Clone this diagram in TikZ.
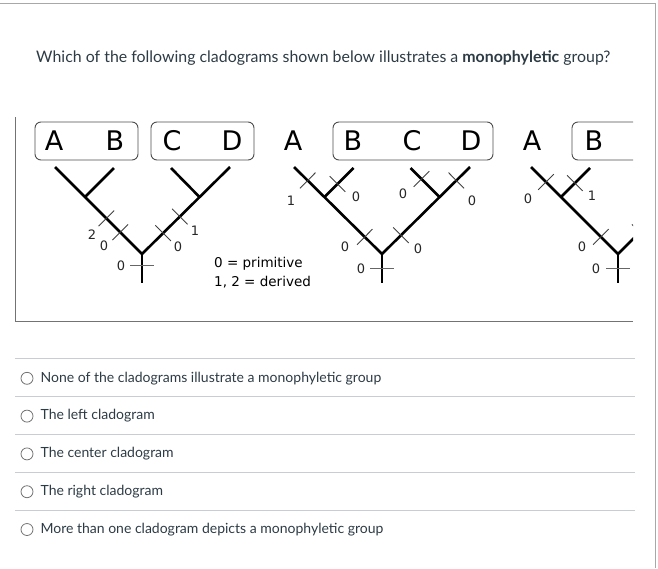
\documentclass[tikz,border=0pt]{standalone}
\usepackage{fontspec}
\setmainfont{Lato}
\newfontfamily\treefont{DejaVu Sans}
\usetikzlibrary{calc, positioning}
\definecolor{quiztext}{HTML}{2D3B45}
\definecolor{rulegray}{HTML}{C7CDD1}
\definecolor{framegray}{HTML}{A8A8A8}

% one character change: short stroke across a branch
\newcommand{\charmark}[3]{%
  \draw[tickmark] ($(#1)!#3!(#2)!11pt!90:(#2)$) -- ($(#1)!#3!(#2)!11pt!-90:(#2)$);}

\begin{document}
\begin{tikzpicture}[x=1pt, y=-1pt,
        branch/.style={line width=2.6pt},
        tickmark/.style={line width=0.9pt, black!75},
        roottick/.style={line width=0.9pt, black!60},
        taxon/.style={font=\treefont\fontsize{27}{30}\selectfont, inner sep=0pt},
        cladebox/.style={draw=black!70, line width=0.9pt, rounded corners=6pt, inner sep=0pt, minimum height=38pt},
        charstate/.style={font=\treefont\fontsize{13}{15}\selectfont, inner sep=0pt, text=black!85},
        legend/.style={font=\treefont\fontsize{13.5}{19}\selectfont, align=left, inner sep=0pt},
        question/.style={font=\fontsize{15.9}{19}\selectfont, text=quiztext, inner sep=0pt},
        answer/.style={font=\fontsize{14}{17}\selectfont, text=quiztext, inner sep=0pt},
        radio/.style={circle, draw=black!55, line width=0.8pt, minimum size=12pt, inner sep=0pt},
        separator/.style={rulegray, line width=0.8pt},
        imgborder/.style={black!55, line width=1pt}]

        \useasboundingbox (0,0) rectangle (658,568);
        \draw[framegray, line width=1pt] (0,3) -- (655,3) -- (655,568);

        % Pregunta
        \node[question, anchor=base west] (question) at (36,62)
            {Which of the following cladograms shown below illustrates a \textbf{monophyletic} group?};

        % Imagen de los cladogramas
        \draw[imgborder] (15,117) -- (15,321) -- (633,321);
        \begin{scope}
        \clip (15,110) rectangle (633,321);

        % Cladograma izquierdo
        \node[cladebox, minimum width=103pt] (box1AB) at (86.5,141) {};
        \node[cladebox, minimum width=103pt] (box1CD) at (202.5,141) {};
        \node[taxon] (taxA1) at (54,141) {A};
        \node[taxon] (taxB1) at (115,141) {B};
        \node[taxon] (taxC1) at (172,141) {C};
        \node[taxon] (taxD1) at (232,141) {D};
        \coordinate (R1) at (142,254);
        \coordinate (S1) at (142,283);
        \coordinate (tA1) at (55,167);
        \coordinate (tD1) at (230,167);
        \coordinate (n1L) at (85,197);
        \coordinate (n1R) at (199.5,197);
        \coordinate (tB1) at (114,168);
        \coordinate (tC1) at (171,168);
        \draw[branch] (tA1) -- (R1) -- (tD1);
        \draw[branch] (R1) -- (S1);
        \draw[branch] (n1L) -- (tB1);
        \draw[branch] (n1R) -- (tC1);
        \charmark{R1}{tA1}{0.25}
        \charmark{R1}{tA1}{0.41}
        \charmark{R1}{tD1}{0.24}
        \charmark{R1}{tD1}{0.43}
        \coordinate (k1) at (142,265);
        \draw[roottick] ([xshift=-12pt]k1) -- ([xshift=12pt]k1);
        \node[charstate] (s1a) at (92,235) {2};
        \node[charstate] (s1b) at (104,246) {0};
        \node[charstate] (s1c) at (195,231) {1};
        \node[charstate] (s1d) at (178,247) {0};
        \node[charstate] (s1r) at (121,266) {0};

        \node[legend, anchor=base west] (key) at (214,286) {0 = primitive\\1, 2 = derived};

        % Cladograma central
        \node[cladebox, minimum width=160pt] (box2BCD) at (413,141) {};
        \node[taxon] (taxA2) at (293,141) {A};
        \node[taxon] (taxB2) at (353,141) {B};
        \node[taxon] (taxC2) at (412,141) {C};
        \node[taxon] (taxD2) at (471,141) {D};
        \coordinate (R2) at (382,254);
        \coordinate (S2) at (382,283);
        \coordinate (tA2) at (294,167);
        \coordinate (tD2) at (470,167);
        \coordinate (n2L) at (324.5,197);
        \coordinate (n2R) at (439.5,197);
        \coordinate (tB2) at (353.5,168);
        \coordinate (tC2) at (410.5,168);
        \draw[branch] (tA2) -- (R2) -- (tD2);
        \draw[branch] (R2) -- (S2);
        \draw[branch] (n2L) -- (tB2);
        \draw[branch] (n2R) -- (tC2);
        \charmark{n2L}{tA2}{0.55}
        \charmark{n2L}{tB2}{0.45}
        \charmark{R2}{n2L}{0.30}
        \charmark{R2}{n2R}{0.33}
        \charmark{n2R}{tC2}{0.62}
        \charmark{n2R}{tD2}{0.55}
        \coordinate (k2) at (382,268);
        \draw[roottick] ([xshift=-12pt]k2) -- ([xshift=12pt]k2);
        \node[charstate] (s2a) at (291,201) {1};
        \node[charstate] (s2b) at (356,197) {0};
        \node[charstate] (s2c) at (345,247) {0};
        \node[charstate] (s2d) at (418,249) {0};
        \node[charstate] (s2e) at (403,194) {0};
        \node[charstate] (s2f) at (472,201) {0};
        \node[charstate] (s2r) at (361,269) {0};

        % Cladograma derecho
        \node[cladebox, minimum width=168pt] (box3B) at (656,141) {};
        \node[taxon] (taxA3) at (532,141) {A};
        \node[taxon] (taxB3) at (594,141) {B};
        \coordinate (R3) at (618,254);
        \coordinate (S3) at (618,283);
        \coordinate (tA3) at (531,167);
        \coordinate (far3) at (705,167);
        \coordinate (n3L) at (561,197);
        \coordinate (tB3) at (590,168);
        \draw[branch] (tA3) -- (R3) -- (far3);
        \draw[branch] (R3) -- (S3);
        \draw[branch] (n3L) -- (tB3);
        \charmark{n3L}{tA3}{0.5}
        \charmark{n3L}{tB3}{0.48}
        \charmark{R3}{n3L}{0.30}
        \charmark{R3}{far3}{0.25}
        \coordinate (k3) at (618,268);
        \draw[roottick] ([xshift=-12pt]k3) -- ([xshift=12pt]k3);
        \node[charstate] (s3a) at (528,199) {0};
        \node[charstate] (s3b) at (592,196) {1};
        \node[charstate] (s3c) at (582,247) {0};
        \node[charstate] (s3r) at (596,269) {0};
        \end{scope}

        % Respuestas
        \foreach \txt [count=\i] in {None of the cladograms illustrate a monophyletic group,
                                     The left cladogram,
                                     The center cladogram,
                                     The right cladogram,
                                     More than one cladogram depicts a monophyletic group} {
            \coordinate (sepL\i) at (15,320+38*\i);
            \coordinate (sepR\i) at (635,320+38*\i);
            \draw[separator] (sepL\i) -- (sepR\i);
            \node[radio] (radio\i) at (27,340.5+37.8*\i) {};
            \node[answer, right=7pt of radio\i] (ans\i) {\txt};
        }

\end{tikzpicture}
\end{document}
